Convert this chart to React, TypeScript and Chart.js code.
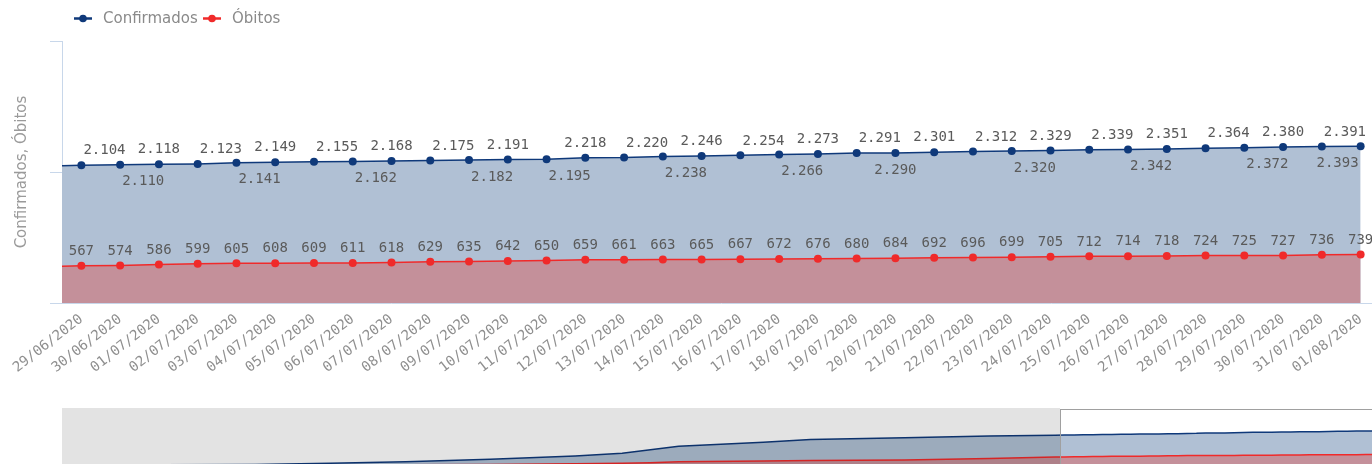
import React, { useEffect, useRef } from 'react';
import { Chart, registerables } from 'chart.js';

Chart.register(...registerables);

// ---------- data ----------
const dates = [
  '29/06/2020', '30/06/2020', '01/07/2020', '02/07/2020', '03/07/2020', '04/07/2020',
  '05/07/2020', '06/07/2020', '07/07/2020', '08/07/2020', '09/07/2020', '10/07/2020',
  '11/07/2020', '12/07/2020', '13/07/2020', '14/07/2020', '15/07/2020', '16/07/2020',
  '17/07/2020', '18/07/2020', '19/07/2020', '20/07/2020', '21/07/2020', '22/07/2020',
  '23/07/2020', '24/07/2020', '25/07/2020', '26/07/2020', '27/07/2020', '28/07/2020',
  '29/07/2020', '30/07/2020', '31/07/2020', '01/08/2020',
];
const confirmed = [
  2104, 2110, 2118, 2123, 2141, 2149, 2155, 2162, 2168, 2175, 2182, 2191,
  2195, 2218, 2220, 2238, 2246, 2254, 2266, 2273, 2291, 2290, 2301, 2312,
  2320, 2329, 2339, 2342, 2351, 2364, 2372, 2380, 2391, 2393,
];
const deaths = [
  567, 574, 586, 599, 605, 608, 609, 611, 618, 629, 635, 642,
  650, 659, 661, 663, 665, 667, 672, 676, 680, 684, 692, 696,
  699, 705, 712, 714, 718, 724, 725, 727, 736, 739,
];
// the day just before the visible window (line enters from the left edge)
const priorDate = '28/06/2020';
const priorConfirmed = 2090;
const priorDeaths = 555;

const seriesNames = ['Confirmados', 'Óbitos'];
const yAxisTitle = 'Confirmados, Óbitos';
const yTicks = [0, 2000, 4000];

// label placement for the Confirmados values (a = above, b = below; + start at point, 0 centred, - end at point)
const confirmedLabelPlacement = [
  'a+', 'b+', 'a0', 'a+', 'b+', 'a0', 'a+', 'b+', 'a0', 'a+', 'b+', 'a0',
  'b+', 'a0', 'a+', 'b+', 'a0', 'a+', 'b+', 'a0', 'a+', 'b0', 'a0', 'a+',
  'b+', 'a0', 'a+', 'b+', 'a0', 'a+', 'b+', 'a0', 'a+', 'b-',
];

// overview (navigator) samples before the window, day 0 = 15/03/2020
const navDays = [0, 20, 28, 36, 45, 54, 59, 62, 65, 74, 79, 89, 98];
const navConfirmed = [0, 40, 130, 224, 397, 636, 831, 1069, 1308, 1597, 1792, 1915, 2030];
const navDeaths = [0, 0, 5, 15, 40, 80, 120, 160, 224, 280, 310, 350, 450];
const navPriorDay = 105; // 28/06/2020
const navLastDay = 139; // 01/08/2020

// ---------- styles ----------
const NAVY = '#0f397a';
const RED = '#f02a2a';
const NAVY_FILL = '#b0c0d4';
const RED_FILL = '#c4909a';
const AXIS = '#c8d7ea';
const MONO = '"DejaVu Sans Mono", "Liberation Mono", monospace';
const SANS = '"DejaVu Sans", Verdana, sans-serif';

function fmt(v: number): string {
  if (v >= 1000) return Math.floor(v / 1000) + '.' + String(v % 1000).padStart(3, '0');
  return String(v);
}

const labelsPlugin = {
  id: 'valueLabels',
  afterDatasetsDraw(chart: any) {
    const ctx = chart.ctx;
    ctx.save();
    ctx.font = '14px ' + MONO;
    ctx.fillStyle = '#5a5a5a';
    ctx.textBaseline = 'middle';
    chart.data.datasets.forEach((ds: any, di: number) => {
      const meta = chart.getDatasetMeta(di);
      meta.data.forEach((pt: any, i: number) => {
        if (i === 0) return;
        const text = fmt(ds.data[i]);
        let align = 'center';
        let dx = 0;
        let dy = -14.5;
        if (di === 0) {
          const code = confirmedLabelPlacement[i - 1];
          if (code[0] === 'b') dy = 17;
          if (code[1] === '+') { align = 'left'; dx = 2; }
          if (code[1] === '-') { align = 'right'; dx = -2; }
        }
        ctx.textAlign = align;
        ctx.fillText(text, pt.x + dx, pt.y + dy);
      });
    });
    ctx.restore();
  },
};

const decorPlugin = {
  id: 'decor',
  afterDraw(chart: any) {
    const ctx = chart.ctx;
    ctx.save();
    // legend
    const items = [
      { x: 74, tx: 103, color: NAVY, name: seriesNames[0] },
      { x: 203, tx: 232, color: RED, name: seriesNames[1] },
    ];
    items.forEach((it) => {
      ctx.strokeStyle = it.color;
      ctx.lineWidth = 2.5;
      ctx.beginPath();
      ctx.moveTo(it.x, 18.5);
      ctx.lineTo(it.x + 18, 18.5);
      ctx.stroke();
      ctx.fillStyle = it.color;
      ctx.beginPath();
      ctx.arc(it.x + 9, 18.5, 3.8, 0, Math.PI * 2);
      ctx.fill();
      ctx.fillStyle = '#8a8a8a';
      ctx.font = '15px ' + SANS;
      ctx.textAlign = 'left';
      ctx.textBaseline = 'middle';
      ctx.fillText(it.name, it.tx, 19);
    });
    // y axis title
    ctx.translate(22, (chart.chartArea.top + chart.chartArea.bottom) / 2);
    ctx.rotate(-Math.PI / 2);
    ctx.fillStyle = '#9a9a9a';
    ctx.font = '15px ' + SANS;
    ctx.textAlign = 'center';
    ctx.textBaseline = 'middle';
    ctx.fillText(yAxisTitle, 0, 0);
    ctx.restore();
  },
};

const navPlugin = {
  id: 'navWindow',
  afterDraw(chart: any) {
    const { ctx, chartArea } = chart;
    const xw = Math.round(chart.scales.x.getPixelForValue(navPriorDay + 0.5));
    ctx.save();
    ctx.fillStyle = 'rgba(0,0,0,0.11)';
    ctx.fillRect(chartArea.left, chartArea.top, xw - chartArea.left, chartArea.bottom - chartArea.top);
    ctx.strokeStyle = '#a0a0a0';
    ctx.lineWidth = 1;
    ctx.strokeRect(xw + 0.5, chartArea.top + 1.5, chartArea.right - xw + 10, chartArea.bottom - chartArea.top + 10);
    ctx.restore();
  },
};

export default function App() {
  const mainRef = useRef<HTMLCanvasElement>(null);
  const navRef = useRef<HTMLCanvasElement>(null);

  useEffect(() => {
    const labels = [priorDate, ...dates];
    const main = new Chart(mainRef.current as HTMLCanvasElement, {
      type: 'line',
      data: {
        labels,
        datasets: [
          {
            label: seriesNames[0],
            data: [priorConfirmed, ...confirmed],
            borderColor: NAVY,
            backgroundColor: NAVY_FILL,
            borderWidth: 1.5,
            fill: 'origin',
            pointRadius: 4,
            pointBorderWidth: 0,
            pointBackgroundColor: NAVY,
            tension: 0,
            order: 2,
          },
          {
            label: seriesNames[1],
            data: [priorDeaths, ...deaths],
            borderColor: RED,
            backgroundColor: RED_FILL,
            borderWidth: 1.5,
            fill: 'origin',
            pointRadius: 4,
            pointBorderWidth: 0,
            pointBackgroundColor: RED,
            tension: 0,
            order: 1,
          },
        ],
      },
      options: {
        responsive: false,
        animation: false,
        devicePixelRatio: 1,
        layout: { padding: { top: 41, right: 20, bottom: 0, left: 0 } },
        plugins: { legend: { display: false }, tooltip: { enabled: false } },
        scales: {
          x: {
            type: 'category',
            min: dates[0],
            offset: true,
            grid: { display: false, drawTicks: false },
            border: { display: true, color: AXIS, width: 1 },
            ticks: {
              autoSkip: false,
              minRotation: 38,
              maxRotation: 38,
              padding: 8,
              color: '#8f8f8f',
              font: { family: MONO, size: 14 },
            },
            afterFit(scale: any) {
              scale.height = 97;
              scale.paddingLeft = 0;
              scale.paddingRight = 0;
            },
          },
          y: {
            min: yTicks[0],
            max: yTicks[yTicks.length - 1],
            afterBuildTicks(scale: any) {
              scale.ticks = yTicks.map((v) => ({ value: v }));
            },
            grid: { display: true, drawOnChartArea: false, drawTicks: true, tickLength: 12, color: AXIS },
            border: { display: true, color: AXIS, width: 1 },
            ticks: { display: false },
            afterFit(scale: any) {
              scale.width = 62;
              scale.paddingTop = 0;
              scale.paddingBottom = 0;
            },
          },
        },
      },
      plugins: [labelsPlugin, decorPlugin],
    });

    const navConfData = [
      ...navDays.map((d, i) => ({ x: d, y: navConfirmed[i] })),
      { x: navPriorDay, y: priorConfirmed },
      ...confirmed.map((v, i) => ({ x: navPriorDay + 1 + i, y: v })),
    ];
    const navDeathData = [
      ...navDays.map((d, i) => ({ x: d, y: navDeaths[i] })),
      { x: navPriorDay, y: priorDeaths },
      ...deaths.map((v, i) => ({ x: navPriorDay + 1 + i, y: v })),
    ];
    const nav = new Chart(navRef.current as HTMLCanvasElement, {
      type: 'line',
      data: {
        datasets: [
          {
            data: navConfData,
            borderColor: NAVY,
            backgroundColor: NAVY_FILL,
            borderWidth: 1.5,
            fill: 'origin',
            pointRadius: 0,
            order: 2,
          },
          {
            data: navDeathData,
            borderColor: RED,
            backgroundColor: RED_FILL,
            borderWidth: 1.5,
            fill: 'origin',
            pointRadius: 0,
            order: 1,
          },
        ],
      },
      options: {
        responsive: false,
        animation: false,
        devicePixelRatio: 1,
        layout: { padding: { top: 8, right: 20, bottom: 15, left: 62 } },
        plugins: { legend: { display: false }, tooltip: { enabled: false } },
        scales: {
          x: { type: 'linear', display: false, min: -0.5, max: navLastDay + 0.5 },
          y: { display: false, min: 0, max: 4000 },
        },
      },
      plugins: [navPlugin],
    });

    return () => {
      main.destroy();
      nav.destroy();
    };
  }, []);

  return (
    <div style={{ position: 'fixed', left: 0, top: 0, width: 1372, height: 464, overflow: 'hidden', background: '#fff' }}>
      <canvas ref={mainRef} width={1400} height={400} style={{ position: 'absolute', left: 0, top: 0, width: 1400, height: 400 }} />
      <canvas ref={navRef} width={1400} height={80} style={{ position: 'absolute', left: 0, top: 400, width: 1400, height: 80 }} />
    </div>
  );
}
